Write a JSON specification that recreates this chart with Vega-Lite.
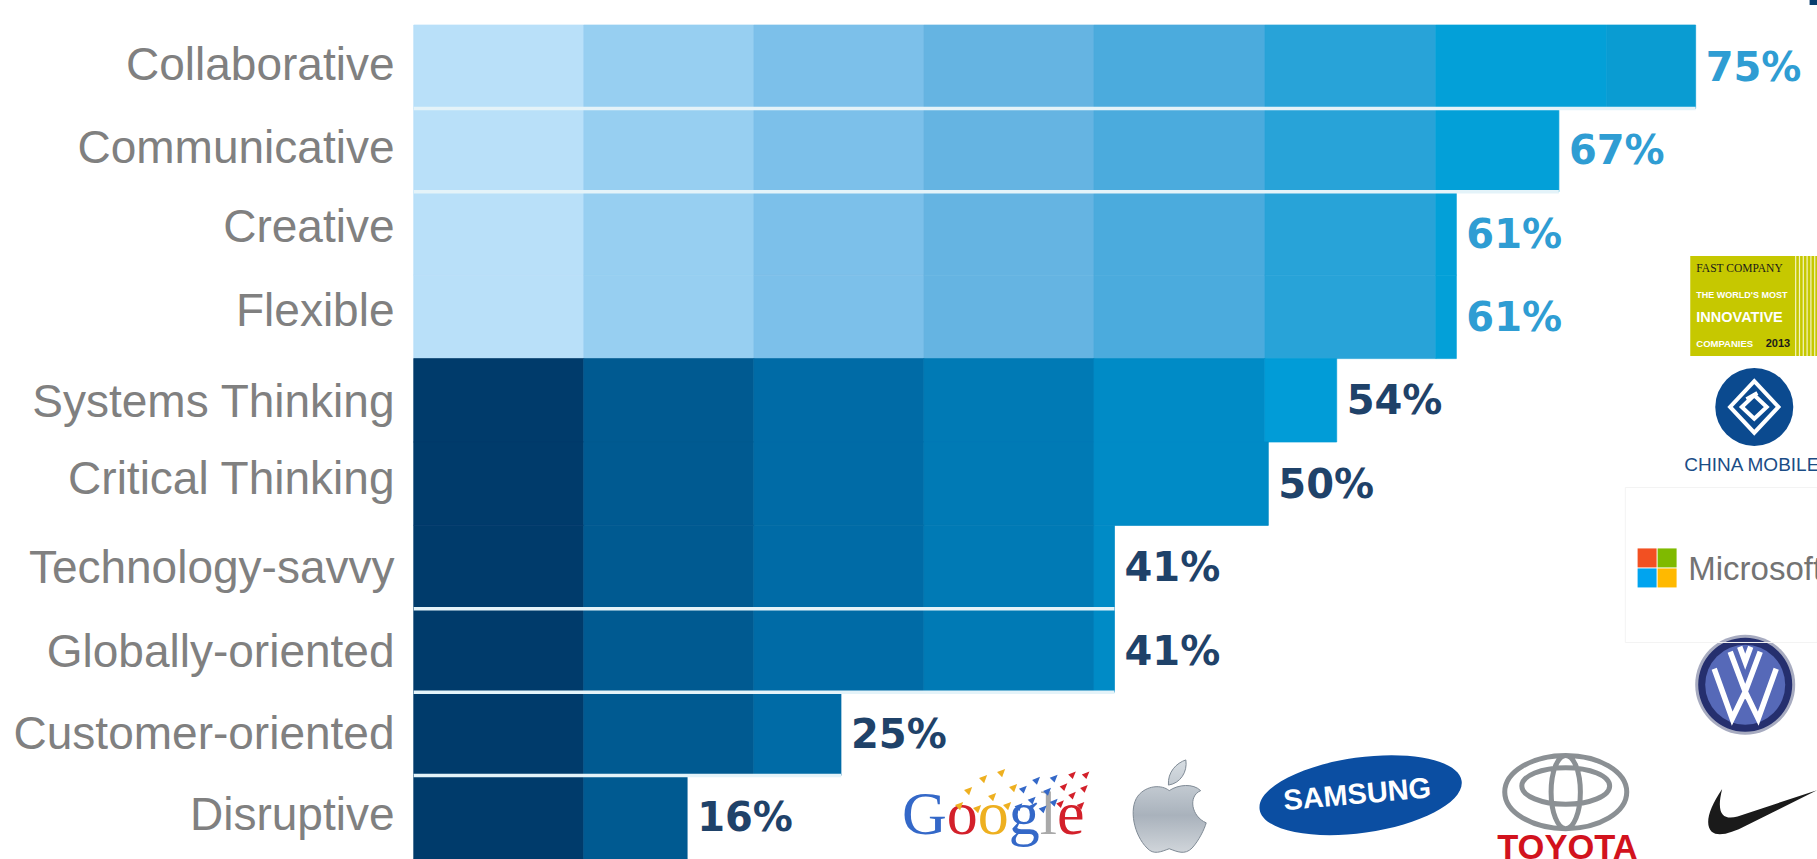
{
  "$schema": "https://vega.github.io/schema/vega-lite/v6.json",
  "width": 1403.3,
  "height": 834,
  "autosize": {"type": "none"},
  "padding": {"left": 413.7, "top": 25, "right": 0, "bottom": 0},
  "background": "white",
  "config": {"view": {"stroke": null}},
  "data": {"values": [{}]},
  "datasets": {
    "segments": [
      {"row":"Collaborative","from":0,"to":9.95,"shade":"L1"},{"row":"Collaborative","from":9.95,"to":19.9,"shade":"L2"},{"row":"Collaborative","from":19.9,"to":29.85,"shade":"L3"},{"row":"Collaborative","from":29.85,"to":39.8,"shade":"L4"},{"row":"Collaborative","from":39.8,"to":49.8,"shade":"L5"},{"row":"Collaborative","from":49.8,"to":59.8,"shade":"L6"},{"row":"Collaborative","from":59.8,"to":69.8,"shade":"L7"},{"row":"Collaborative","from":69.8,"to":75,"shade":"L8"},
      {"row":"Communicative","from":0,"to":9.95,"shade":"L1"},{"row":"Communicative","from":9.95,"to":19.9,"shade":"L2"},{"row":"Communicative","from":19.9,"to":29.85,"shade":"L3"},{"row":"Communicative","from":29.85,"to":39.8,"shade":"L4"},{"row":"Communicative","from":39.8,"to":49.8,"shade":"L5"},{"row":"Communicative","from":49.8,"to":59.8,"shade":"L6"},{"row":"Communicative","from":59.8,"to":67,"shade":"L7"},
      {"row":"Creative","from":0,"to":9.95,"shade":"L1"},{"row":"Creative","from":9.95,"to":19.9,"shade":"L2"},{"row":"Creative","from":19.9,"to":29.85,"shade":"L3"},{"row":"Creative","from":29.85,"to":39.8,"shade":"L4"},{"row":"Creative","from":39.8,"to":49.8,"shade":"L5"},{"row":"Creative","from":49.8,"to":59.8,"shade":"L6"},{"row":"Creative","from":59.8,"to":61,"shade":"L7"},
      {"row":"Flexible","from":0,"to":9.95,"shade":"L1"},{"row":"Flexible","from":9.95,"to":19.9,"shade":"L2"},{"row":"Flexible","from":19.9,"to":29.85,"shade":"L3"},{"row":"Flexible","from":29.85,"to":39.8,"shade":"L4"},{"row":"Flexible","from":39.8,"to":49.8,"shade":"L5"},{"row":"Flexible","from":49.8,"to":59.8,"shade":"L6"},{"row":"Flexible","from":59.8,"to":61,"shade":"L7"},
      {"row":"Systems Thinking","from":0,"to":9.95,"shade":"D1"},{"row":"Systems Thinking","from":9.95,"to":19.9,"shade":"D2"},{"row":"Systems Thinking","from":19.9,"to":29.85,"shade":"D3"},{"row":"Systems Thinking","from":29.85,"to":39.8,"shade":"D4"},{"row":"Systems Thinking","from":39.8,"to":49.8,"shade":"D5"},{"row":"Systems Thinking","from":49.8,"to":54,"shade":"D6"},
      {"row":"Critical Thinking","from":0,"to":9.95,"shade":"D1"},{"row":"Critical Thinking","from":9.95,"to":19.9,"shade":"D2"},{"row":"Critical Thinking","from":19.9,"to":29.85,"shade":"D3"},{"row":"Critical Thinking","from":29.85,"to":39.8,"shade":"D4"},{"row":"Critical Thinking","from":39.8,"to":50,"shade":"D5"},
      {"row":"Technology-savvy","from":0,"to":9.95,"shade":"D1"},{"row":"Technology-savvy","from":9.95,"to":19.9,"shade":"D2"},{"row":"Technology-savvy","from":19.9,"to":29.85,"shade":"D3"},{"row":"Technology-savvy","from":29.85,"to":39.8,"shade":"D4"},{"row":"Technology-savvy","from":39.8,"to":41,"shade":"D5"},
      {"row":"Globally-oriented","from":0,"to":9.95,"shade":"D1"},{"row":"Globally-oriented","from":9.95,"to":19.9,"shade":"D2"},{"row":"Globally-oriented","from":19.9,"to":29.85,"shade":"D3"},{"row":"Globally-oriented","from":29.85,"to":39.8,"shade":"D4"},{"row":"Globally-oriented","from":39.8,"to":41,"shade":"D5"},
      {"row":"Customer-oriented","from":0,"to":9.95,"shade":"D1"},{"row":"Customer-oriented","from":9.95,"to":19.9,"shade":"D2"},{"row":"Customer-oriented","from":19.9,"to":25,"shade":"D3"},
      {"row":"Disruptive","from":0,"to":9.95,"shade":"D1"},{"row":"Disruptive","from":9.95,"to":16,"shade":"D2"}
    ],
    "totals": [
      {"row":"Collaborative","value":75,"label":"75%","tone":"light"},
      {"row":"Communicative","value":67,"label":"67%","tone":"light"},
      {"row":"Creative","value":61,"label":"61%","tone":"light"},
      {"row":"Flexible","value":61,"label":"61%","tone":"light"},
      {"row":"Systems Thinking","value":54,"label":"54%","tone":"dark"},
      {"row":"Critical Thinking","value":50,"label":"50%","tone":"dark"},
      {"row":"Technology-savvy","value":41,"label":"41%","tone":"dark"},
      {"row":"Globally-oriented","value":41,"label":"41%","tone":"dark"},
      {"row":"Customer-oriented","value":25,"label":"25%","tone":"dark"},
      {"row":"Disruptive","value":16,"label":"16%","tone":"dark"}
    ],
    "dividers": [
      {"row":"Collaborative","from":0,"to":75},
      {"row":"Communicative","from":0,"to":67},
      {"row":"Technology-savvy","from":0,"to":41},
      {"row":"Globally-oriented","from":0,"to":41},
      {"row":"Customer-oriented","from":0,"to":25}
    ]
  },
  "layer": [
    {
      "data": {"name":"segments"},
      "mark": {"type":"bar","strokeWidth":0.7},
      "encoding": {
        "x": {"field":"from","type":"quantitative","scale":{"domain":[0,82.1],"nice":false,"zero":false},"axis":null},
        "x2": {"field":"to"},
        "y": {"field":"row","type":"nominal","title":null,
          "scale":{"domain":["Collaborative","Communicative","Creative","Flexible","Systems Thinking","Critical Thinking","Technology-savvy","Globally-oriented","Customer-oriented","Disruptive"],"paddingInner":0,"paddingOuter":0},
          "axis":{"domain":false,"ticks":false,"labelFont":"Liberation Sans","labelFontSize":46,"labelColor":"#808080","labelPadding":19.7,"labelLimit":0,
            "labelOffset":{"condition":[
              {"test":"datum.value==='Collaborative'","value":-0.7},
              {"test":"datum.value==='Communicative'","value":-0.7},
              {"test":"datum.value==='Creative'","value":-5.7},
              {"test":"datum.value==='Flexible'","value":-4.8},
              {"test":"datum.value==='Systems Thinking'","value":2.3},
              {"test":"datum.value==='Critical Thinking'","value":-3.8},
              {"test":"datum.value==='Technology-savvy'","value":2.2},
              {"test":"datum.value==='Globally-oriented'","value":2.3},
              {"test":"datum.value==='Customer-oriented'","value":1.2},
              {"test":"datum.value==='Disruptive'","value":-1.7}
            ],"value":0}}},
        "color": {"field":"shade","type":"nominal","legend":null,
          "scale":{"domain":["L1","L2","L3","L4","L5","L6","L7","L8","D1","D2","D3","D4","D5","D6","light","dark"],
                   "range":["#b9e0f9","#97cff1","#7cc0ea","#65b4e2","#4babdd","#28a3d8","#03a0d8","#0a9cd2","#003b6b","#005a91","#006ba6","#007ab5","#008bc6","#019cd7","#2f9dd3","#1f4269"]}},
        "stroke": {"field":"shade","type":"nominal","legend":null,
          "scale":{"domain":["L1","L2","L3","L4","L5","L6","L7","L8","D1","D2","D3","D4","D5","D6"],
                   "range":["#b9e0f9","#97cff1","#7cc0ea","#65b4e2","#4babdd","#28a3d8","#03a0d8","#0a9cd2","#003b6b","#005a91","#006ba6","#007ab5","#008bc6","#019cd7"]}}
      }
    },
    {
      "data": {"name":"dividers"},
      "mark": {"type":"rule","color":"#e4f3f9","strokeWidth":3.5},
      "encoding": {
        "x": {"field":"from","type":"quantitative"},
        "x2": {"field":"to"},
        "y": {"field":"row","type":"nominal","bandPosition":1}
      }
    },
    {
      "data": {"name":"totals"},
      "mark": {"type":"text","align":"left","baseline":"middle","dx":10,"dy":2,"font":"DejaVu Sans","fontWeight":"bold","fontSize":40},
      "encoding": {
        "x": {"field":"value","type":"quantitative"},
        "y": {"field":"row","type":"nominal"},
        "text": {"field":"label"},
        "color": {"field":"tone","type":"nominal","legend":null}
      }
    },

    {"mark":{"type":"point","filled":true,"size":64,"color":"#0a3d6e","opacity":1,"shape":"square"},
      "encoding":{"x":{"datum":81.9},"y":{"datum":"Collaborative","type":"nominal","bandPosition":-0.288}}},

    {"mark":{"type":"text","text":"G","font":"Liberation Serif","fontSize":62,"align":"left","baseline":"alphabetic","color":"#3468c8"},"encoding":{"x":{"datum":28.57},"y":{"datum":"Disruptive","type":"nominal","bandPosition":0.7}}},
    {"mark":{"type":"text","text":"o","font":"Liberation Serif","fontSize":62,"align":"left","baseline":"alphabetic","color":"#d3202a"},"encoding":{"x":{"datum":31.19},"y":{"datum":"Disruptive","type":"nominal","bandPosition":0.7}}},
    {"mark":{"type":"text","text":"o","font":"Liberation Serif","fontSize":62,"align":"left","baseline":"alphabetic","color":"#eeb020"},"encoding":{"x":{"datum":33.0},"y":{"datum":"Disruptive","type":"nominal","bandPosition":0.7}}},
    {"mark":{"type":"text","text":"g","font":"Liberation Serif","fontSize":62,"align":"left","baseline":"alphabetic","color":"#3468c8"},"encoding":{"x":{"datum":34.81},"y":{"datum":"Disruptive","type":"nominal","bandPosition":0.7}}},
    {"mark":{"type":"text","text":"l","font":"Liberation Serif","fontSize":62,"align":"left","baseline":"alphabetic","color":"#a9a9a9"},"encoding":{"x":{"datum":36.62},"y":{"datum":"Disruptive","type":"nominal","bandPosition":0.7}}},
    {"mark":{"type":"text","text":"e","font":"Liberation Serif","fontSize":62,"align":"left","baseline":"alphabetic","color":"#d3202a"},"encoding":{"x":{"datum":37.63},"y":{"datum":"Disruptive","type":"nominal","bandPosition":0.7}}},
    {"mark":{"type":"point","filled":true,"size":3600,"color":"#eeb020","opacity":1,
      "shape":"M-0.9,0.4l0.27,-0.1l-0.1,0.27Z M-0.6,-0.1l0.27,-0.1l-0.1,0.27Z M-0.3,0.5l0.27,-0.1l-0.1,0.27Z M-0.1,-0.5l0.27,-0.1l-0.1,0.27Z M0.2,0.1l0.27,-0.1l-0.1,0.27Z M0.5,-0.7l0.27,-0.1l-0.1,0.27Z M0.7,0.4l0.27,-0.1l-0.1,0.27Z M0.9,-0.2l0.27,-0.1l-0.1,0.27Z"},
      "encoding":{"x":{"datum":33.25},"y":{"datum":"Disruptive","type":"nominal","bandPosition":0.21}}},
    {"mark":{"type":"point","filled":true,"size":1936,"color":"#3468c8","opacity":1,
      "shape":"M-0.8,0.6l0.36,-0.14l-0.14,0.36Z M-0.6,-0.2l0.36,-0.14l-0.14,0.36Z M-0.2,0.3l0.36,-0.14l-0.14,0.36Z M0,-0.6l0.36,-0.14l-0.14,0.36Z M0.3,0.7l0.36,-0.14l-0.14,0.36Z M0.5,-0.1l0.36,-0.14l-0.14,0.36Z M0.8,0.4l0.36,-0.14l-0.14,0.36Z M0.8,-0.7l0.36,-0.14l-0.14,0.36Z"},
      "encoding":{"x":{"datum":36.18},"y":{"datum":"Disruptive","type":"nominal","bandPosition":0.21}}},
    {"mark":{"type":"point","filled":true,"size":1156,"color":"#d3202a","opacity":1,
      "shape":"M-0.7,0.8l0.45,-0.18l-0.18,0.45Z M-0.5,-0.2l0.45,-0.18l-0.18,0.45Z M0,0.3l0.45,-0.18l-0.18,0.45Z M0,-0.9l0.45,-0.18l-0.18,0.45Z M0.5,0.9l0.45,-0.18l-0.18,0.45Z M0.7,-0.1l0.45,-0.18l-0.18,0.45Z M0.8,-0.9l0.45,-0.18l-0.18,0.45Z"},
      "encoding":{"x":{"datum":38.29},"y":{"datum":"Disruptive","type":"nominal","bandPosition":0.17}}},

    {"mark":{"type":"point","filled":true,"size":5476,"strokeWidth":1,"stroke":"#7f8a95",
      "shape":"M0,-0.45 C-0.2,-0.62 -0.62,-0.6 -0.85,-0.3 C-1.1,0.05 -0.95,0.75 -0.6,1.1 C-0.42,1.3 -0.22,1.2 0,1.12 C0.22,1.2 0.42,1.3 0.62,1.1 C0.8,0.9 0.95,0.6 1,0.42 C0.6,0.25 0.5,-0.3 0.85,-0.45 C0.65,-0.65 0.25,-0.62 0,-0.45Z M-0.02,-0.6 C-0.05,-0.95 0.2,-1.2 0.45,-1.28 C0.5,-0.95 0.3,-0.65 -0.02,-0.6Z",
      "fill":{"x1":0,"y1":0,"x2":0,"y2":1,"gradient":"linear","stops":[{"offset":0,"color":"#d8dee3"},{"offset":0.6,"color":"#a9b2bc"},{"offset":1,"color":"#d0d5da"}]},"opacity":1},
      "encoding":{"x":{"datum":44.2},"y":{"datum":"Disruptive","type":"nominal","bandPosition":0.38}}},

    {"mark":{"type":"point","filled":true,"size":41616,"angle":-8,"color":"#0b4ea2","opacity":1,
      "shape":"M-1,0A1,0.37 0 1,1 1,0A1,0.37 0 1,1 -1,0Z"},
      "encoding":{"x":{"datum":55.4},"y":{"datum":"Disruptive","type":"nominal","bandPosition":0.235}}},
    {"mark":{"type":"text","text":"SAMSUNG","font":"Liberation Sans","fontWeight":"bold","fontSize":29,"angle":355,"align":"center","baseline":"middle","color":"white"},
      "encoding":{"x":{"datum":55.2},"y":{"datum":"Disruptive","type":"nominal","bandPosition":0.23}}},

    {"mark":{"type":"point","filled":false,"size":14884,"strokeWidth":5,"color":"#8b9094","opacity":1,
      "shape":"M-1,0A1,0.6 0 1,1 1,0A1,0.6 0 1,1 -1,0Z M-0.72,-0.1A0.72,0.3 0 1,1 0.72,-0.1A0.72,0.3 0 1,1 -0.72,-0.1Z M-0.24,0A0.24,0.6 0 1,1 0.24,0A0.24,0.6 0 1,1 -0.24,0Z"},
      "encoding":{"x":{"datum":67.4},"y":{"datum":"Disruptive","type":"nominal","bandPosition":0.197}}},
    {"mark":{"type":"text","text":"TOYOTA","font":"Liberation Sans","fontWeight":"bold","fontSize":34.5,"align":"center","baseline":"middle","color":"#d2121d"},
      "encoding":{"x":{"datum":67.5},"y":{"datum":"Disruptive","type":"nominal","bandPosition":0.88}}},

    {"mark":{"type":"point","filled":true,"size":12100,"color":"#1a1a1a","opacity":1,
      "shape":"M-0.73,-0.42 C-0.98,-0.05 -1.05,0.22 -0.92,0.36 C-0.8,0.46 -0.55,0.38 -0.3,0.25 L1,-0.4 L-0.45,0.08 C-0.7,0.15 -0.85,0.05 -0.73,-0.42Z"},
      "encoding":{"x":{"datum":78.9},"y":{"datum":"Disruptive","type":"nominal","bandPosition":0.437}}},

    {"mark":{"type":"point","filled":true,"shape":"circle","size":10000,"color":"#a7abc0","opacity":1},
      "encoding":{"x":{"datum":77.9},"y":{"datum":"Globally-oriented","type":"nominal","bandPosition":0.91}}},
    {"mark":{"type":"point","filled":true,"shape":"circle","size":8836,"color":"#252f6e","opacity":1},
      "encoding":{"x":{"datum":77.9},"y":{"datum":"Globally-oriented","type":"nominal","bandPosition":0.91}}},
    {"mark":{"type":"point","filled":true,"shape":"circle","size":6400,"color":"#5669b8","opacity":1},
      "encoding":{"x":{"datum":77.9},"y":{"datum":"Globally-oriented","type":"nominal","bandPosition":0.91}}},
    {"mark":{"type":"point","filled":false,"size":10000,"strokeWidth":5.5,"color":"white","opacity":1,
      "shape":"M-0.3,-0.66 L0,0.14 L0.3,-0.66 M-0.62,-0.32 L-0.26,0.68 L0,0.14 L0.26,0.68 L0.62,-0.32 M-0.11,-0.76 L0,-0.46 L0.11,-0.76"},
      "encoding":{"x":{"datum":77.9},"y":{"datum":"Globally-oriented","type":"nominal","bandPosition":0.91}}},

    {"mark":{"type":"point","filled":false,"size":36864,"strokeWidth":1,"color":"#f3f3f3","opacity":1,"shape":"M-1,-0.807H1V0.807H-1Z"},
      "encoding":{"x":{"datum":76.5},"y":{"datum":"Technology-savvy","type":"nominal","bandPosition":0.475}}},
    {"mark":{"type":"point","filled":true,"shape":"square","size":361,"color":"#f25022","opacity":1},"encoding":{"x":{"datum":72.16},"y":{"datum":"Technology-savvy","type":"nominal","bandPosition":0.39}}},
    {"mark":{"type":"point","filled":true,"shape":"square","size":361,"color":"#7fba00","opacity":1},"encoding":{"x":{"datum":73.33},"y":{"datum":"Technology-savvy","type":"nominal","bandPosition":0.39}}},
    {"mark":{"type":"point","filled":true,"shape":"square","size":361,"color":"#00a4ef","opacity":1},"encoding":{"x":{"datum":72.16},"y":{"datum":"Technology-savvy","type":"nominal","bandPosition":0.63}}},
    {"mark":{"type":"point","filled":true,"shape":"square","size":361,"color":"#ffb900","opacity":1},"encoding":{"x":{"datum":73.33},"y":{"datum":"Technology-savvy","type":"nominal","bandPosition":0.63}}},
    {"mark":{"type":"text","text":"Microsoft","font":"Liberation Sans","fontSize":33,"align":"left","baseline":"middle","color":"#737373"},
      "encoding":{"x":{"datum":74.57},"y":{"datum":"Technology-savvy","type":"nominal","bandPosition":0.53}}},

    {"mark":{"type":"point","filled":true,"shape":"circle","size":6084,"color":"#0b4a8f","opacity":1},
      "encoding":{"x":{"datum":78.43},"y":{"datum":"Systems Thinking","type":"nominal","bandPosition":0.58}}},
    {"mark":{"type":"point","filled":false,"size":6084,"strokeWidth":4,"color":"white","opacity":1,
      "shape":"M0,-0.66 L0.62,0 L0,0.66 L-0.62,0 Z M-0.2,-0.2 L0.08,-0.36 M0,-0.3 L0.32,0 L0,0.3 L-0.32,0 Z"},
      "encoding":{"x":{"datum":78.43},"y":{"datum":"Systems Thinking","type":"nominal","bandPosition":0.58}}},
    {"mark":{"type":"text","text":"CHINA MOBILE","font":"Liberation Sans","fontSize":19,"align":"left","baseline":"middle","color":"#1b4d86"},
      "encoding":{"x":{"datum":74.33},"y":{"datum":"Critical Thinking","type":"nominal","bandPosition":0.27}}},

    {"mark":{"type":"point","filled":true,"size":16129,"color":"#c6c800","opacity":1,"shape":"M-1,-0.787H1V0.787H-1Z"},
      "encoding":{"x":{"datum":78.4},"y":{"datum":"Flexible","type":"nominal","bandPosition":0.37}}},
    {"mark":{"type":"point","filled":false,"size":16129,"strokeWidth":1.2,"color":"#f4f4c0","opacity":1,
      "shape":"M0.66,-0.787V0.787M0.72,-0.787V0.787M0.78,-0.787V0.787M0.84,-0.787V0.787M0.9,-0.787V0.787M0.96,-0.787V0.787"},
      "encoding":{"x":{"datum":78.4},"y":{"datum":"Flexible","type":"nominal","bandPosition":0.37}}},
    {"mark":{"type":"text","text":"FAST COMPANY","font":"Liberation Serif","fontSize":11.5,"align":"left","baseline":"middle","color":"#1a1a1a"},
      "encoding":{"x":{"datum":75.04},"y":{"datum":"Creative","type":"nominal","bandPosition":0.926}}},
    {"mark":{"type":"text","text":"THE WORLD'S MOST","font":"Liberation Sans","fontWeight":"bold","fontSize":9,"align":"left","baseline":"middle","color":"white"},
      "encoding":{"x":{"datum":75.04},"y":{"datum":"Flexible","type":"nominal","bandPosition":0.237}}},
    {"mark":{"type":"text","text":"INNOVATIVE","font":"Liberation Sans","fontWeight":"bold","fontSize":14.5,"align":"left","baseline":"middle","color":"white"},
      "encoding":{"x":{"datum":75.04},"y":{"datum":"Flexible","type":"nominal","bandPosition":0.51}}},
    {"mark":{"type":"text","text":"COMPANIES","font":"Liberation Sans","fontWeight":"bold","fontSize":9.5,"align":"left","baseline":"middle","color":"white"},
      "encoding":{"x":{"datum":75.04},"y":{"datum":"Flexible","type":"nominal","bandPosition":0.825}}},
    {"mark":{"type":"text","text":"2013","font":"Liberation Sans","fontWeight":"bold","fontSize":11,"align":"left","baseline":"middle","color":"#1a1a1a"},
      "encoding":{"x":{"datum":79.1},"y":{"datum":"Flexible","type":"nominal","bandPosition":0.825}}}
  ]
}
